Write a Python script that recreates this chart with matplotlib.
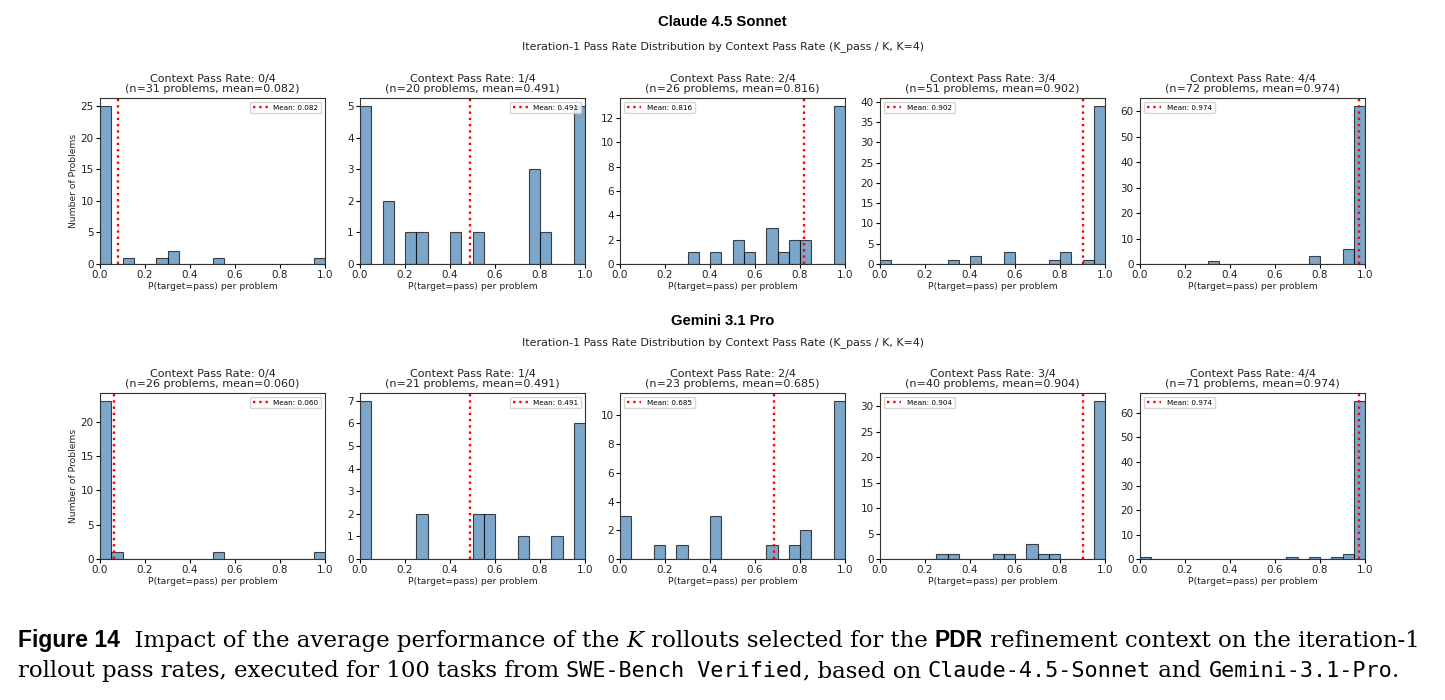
import numpy as np
import matplotlib
matplotlib.use("Agg")
import matplotlib.pyplot as plt
from matplotlib.ticker import MultipleLocator

# ---------------- data ----------------
bin_edges = np.linspace(0, 1, 21)
context_labels = ["0/4", "1/4", "2/4", "3/4", "4/4"]

claude_counts = [
    [25, 0, 1, 0, 0, 1, 2, 0, 0, 0, 1, 0, 0, 0, 0, 0, 0, 0, 0, 1],
    [5, 0, 2, 0, 1, 1, 0, 0, 1, 0, 1, 0, 0, 0, 0, 3, 1, 0, 0, 5],
    [0, 0, 0, 0, 0, 0, 1, 0, 1, 0, 2, 1, 0, 3, 1, 2, 2, 0, 0, 13],
    [1, 0, 0, 0, 0, 0, 1, 0, 2, 0, 0, 3, 0, 0, 0, 1, 3, 0, 1, 39],
    [0, 0, 0, 0, 0, 0, 1, 0, 0, 0, 0, 0, 0, 0, 0, 3, 0, 0, 6, 62],
]
claude_n = [31, 20, 26, 51, 72]
claude_means = [0.082, 0.491, 0.816, 0.902, 0.974]

gemini_counts = [
    [23, 1, 0, 0, 0, 0, 0, 0, 0, 0, 1, 0, 0, 0, 0, 0, 0, 0, 0, 1],
    [7, 0, 0, 0, 0, 2, 0, 0, 0, 0, 2, 2, 0, 0, 1, 0, 0, 1, 0, 6],
    [3, 0, 0, 1, 0, 1, 0, 0, 3, 0, 0, 0, 0, 1, 0, 1, 2, 0, 0, 11],
    [0, 0, 0, 0, 0, 1, 1, 0, 0, 0, 1, 1, 0, 3, 1, 1, 0, 0, 0, 31],
    [1, 0, 0, 0, 0, 0, 0, 0, 0, 0, 0, 0, 0, 1, 0, 1, 0, 1, 2, 65],
]
gemini_n = [26, 21, 23, 40, 71]
gemini_means = [0.060, 0.491, 0.685, 0.904, 0.974]

model_names = ["Claude 4.5 Sonnet", "Gemini 3.1 Pro"]
subtitle = "Iteration-1 Pass Rate Distribution by Context Pass Rate (K_pass / K, K=4)"

legend_locs = [
    ["upper right", "upper right", "upper left", "upper left", "upper left"],
    ["upper right", "upper right", "upper left", "upper left", "upper left"],
]
ytick_steps = [[5, 1, 2, 5, 10], [5, 1, 2, 5, 10]]

# ---------------- figure ----------------
W, H = 1445, 700
fig = plt.figure(figsize=(W / 100, H / 100), dpi=100)

ax_left = [100, 360, 620, 880, 1140]
ax_w = 225
row_tops = [98, 393]
ax_h = 166

centers = (bin_edges[:-1] + bin_edges[1:]) / 2

rows = [(claude_counts, claude_n, claude_means), (gemini_counts, gemini_n, gemini_means)]
header_y = [[22, 47], [321, 343]]

for r, (counts_list, ns, means) in enumerate(rows):
    fig.text(0.5, 1 - header_y[r][0] / H, model_names[r], ha="center", va="center",
             fontsize=10.7, fontweight="bold", family="Liberation Sans")
    fig.text(0.5, 1 - header_y[r][1] / H, subtitle, ha="center", va="center",
             fontsize=7.9, color="#222222")
    for c in range(5):
        top = row_tops[r]
        ax = fig.add_axes([ax_left[c] / W, 1 - (top + ax_h) / H, ax_w / W, ax_h / H])
        ax.hist(centers, bins=bin_edges, weights=counts_list[c], color="steelblue",
                alpha=0.7, edgecolor="black", linewidth=0.8)
        ax.axvline(means[c], color="red", linestyle=":", linewidth=1.7,
                   label=f"Mean: {means[c]:.3f}")
        ax.set_xlim(0, 1)
        ax.yaxis.set_major_locator(MultipleLocator(ytick_steps[r][c]))
        ax.set_title(f"Context Pass Rate: {context_labels[c]}\n(n={ns[c]} problems, mean={means[c]:.3f})",
                     fontsize=8, pad=4, linespacing=1.1, color="#222222")
        ax.set_xlabel("P(target=pass) per problem", fontsize=6.7, labelpad=1.5, color="#222222")
        if c == 0:
            ax.set_ylabel("Number of Problems", fontsize=6.6, labelpad=2, color="#222222")
        ax.tick_params(labelsize=7.5, length=3, pad=1.5, labelcolor="#222222")
        ax.legend(loc=legend_locs[r][c], fontsize=5.2, handlelength=2, borderpad=0.4,
                  framealpha=0.8)
        for s in ax.spines.values():
            s.set_linewidth(0.8)
            s.set_color("#333333")

# ---------------- caption ----------------
renderer = fig.canvas.get_renderer()

serif = dict(family="DejaVu Serif")
sans_b = dict(family="Liberation Sans", fontweight="bold")
mono = dict(family="DejaVu Sans Mono")

line1 = [("Figure 14", sans_b, 1.0), ("  Impact of the average performance of the ", serif, 1.0),
         ("K", dict(family="DejaVu Serif", style="italic"), 1.0),
         (" rollouts selected for the ", serif, 1.0), ("PDR", sans_b, 1.0),
         (" refinement context on the iteration-1", serif, 1.0)]
line2 = [("rollout pass rates, executed for 100 tasks from ", serif, 1.0), ("SWE-Bench Verified", mono, 0.95),
         (", based on ", serif, 1.0), ("Claude-4.5-Sonnet", mono, 0.95), (" and ", serif, 1.0),
         ("Gemini-3.1-Pro", mono, 0.95), (".", serif, 1.0)]

def draw_line(frags, x0, y, size):
    x = x0
    texts = []
    for txt, kw, scale in frags:
        t = fig.text(x / W, 1 - y / H, txt, ha="left", va="baseline", fontsize=size * scale, **kw)
        bb = t.get_window_extent(renderer=renderer)
        x += bb.width
        texts.append(t)
    return x, texts

# fit line 1 to the target width
end, texts = draw_line(line1, 18, 647, 14)
for t in texts:
    t.remove()
size = 14 * (1432 - 18) / (end - 18)
draw_line(line1, 18, 647, size)
draw_line(line2, 18, 677, size)

fig.savefig("out.png", dpi=100)
